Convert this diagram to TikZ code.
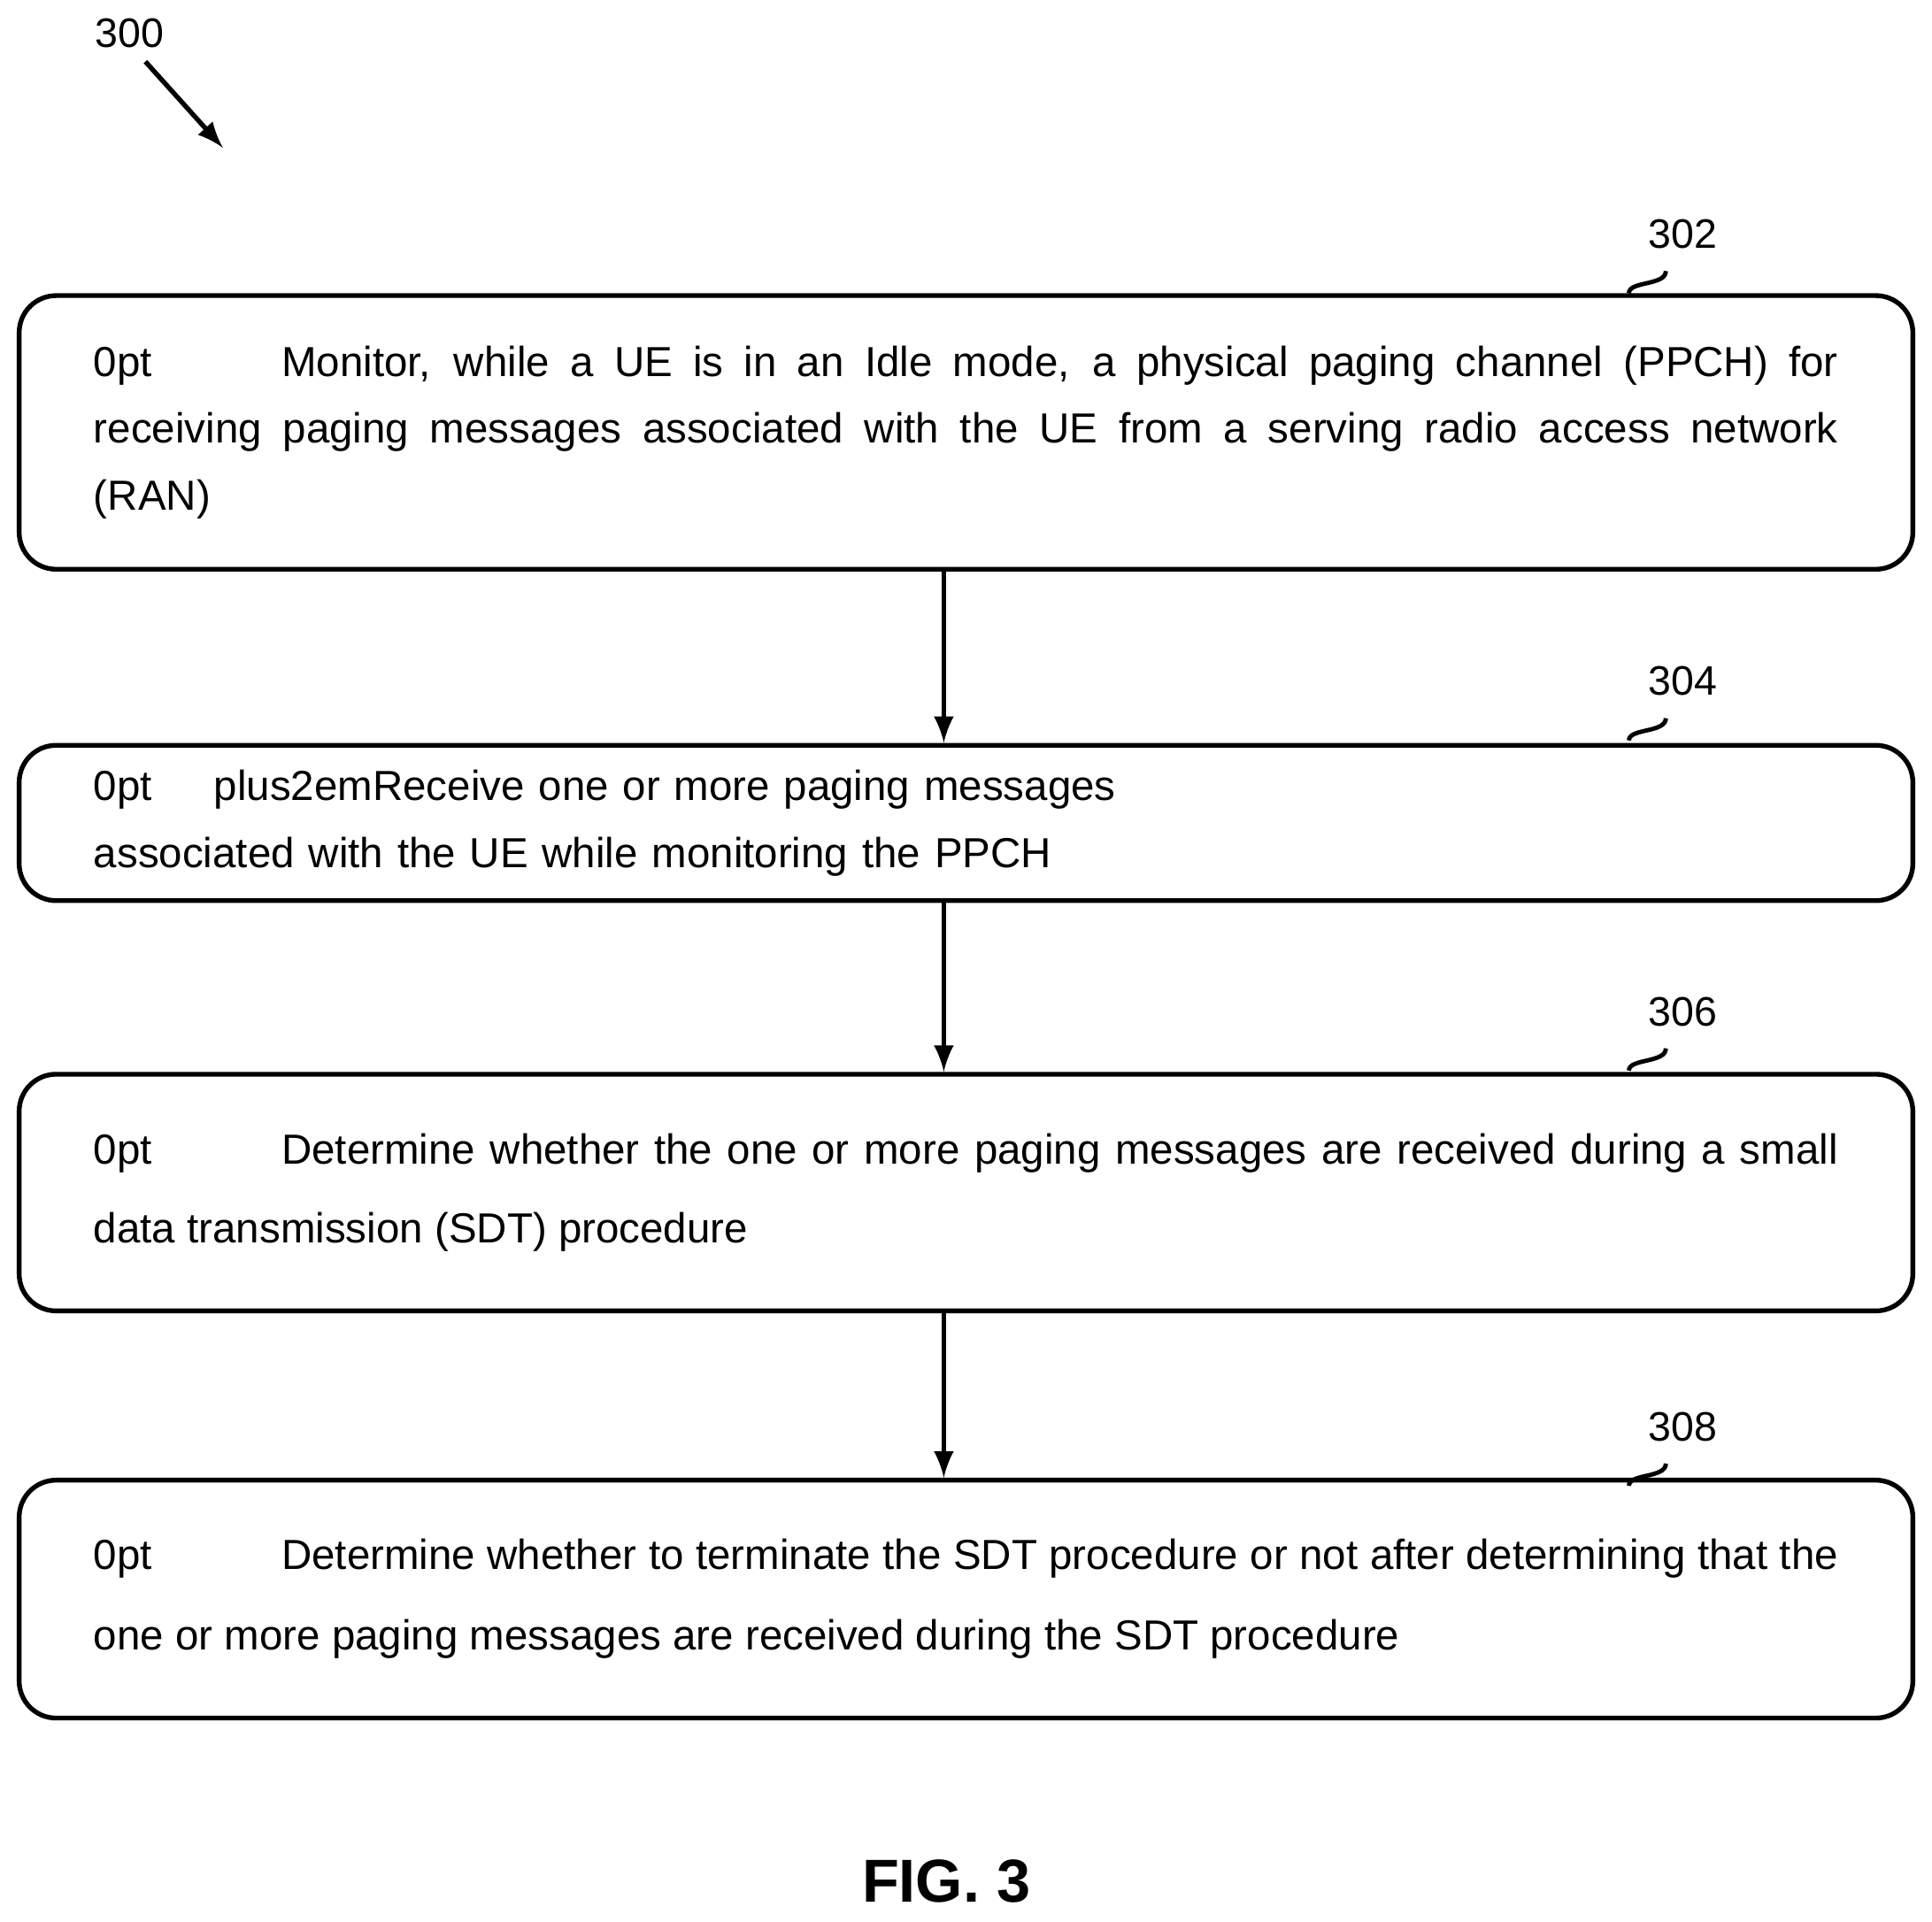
\documentclass[tikz,border=0pt]{standalone}
\usepackage{fontspec}
\setmainfont{Liberation Sans}
\usetikzlibrary{positioning}
\tikzset{
  stepbox/.style={draw, line width=1.1pt, rounded corners=0.3cm, minimum width=15.36cm, inner sep=0pt},
  steptext/.style={text width=14.15cm, align=justify, font=\fontsize{9.7}{15.5}\selectfont\hyphenpenalty=10000},
  flow/.style={-latex, line width=1.1pt},
  ref/.style={font=\fontsize{9.5}{11}\selectfont},
}
\begin{document}
\begin{tikzpicture}[x=0.01cm,y=-0.01cm]
\useasboundingbox (0,0) rectangle (1568,1560);
\node[stepbox, minimum height=2.22cm] (s302) at (784,351) {};
\node[steptext] at (s302.center) {\hspace*{1.05cm}Monitor, while a UE is in an Idle mode, a physical paging channel (PPCH) for\linebreak receiving paging messages associated with the UE from a serving radio access network\linebreak (RAN)};
\node[stepbox, minimum height=1.26cm] (s304) at (784,668) {};
\node[steptext, align=center] at (s304.center) {Receive one or more paging messages associated with the UE while monitoring the PPCH};
\node[stepbox, minimum height=1.92cm] (s306) at (784,968) {};
\node[steptext, font=\fontsize{9.7}{18.2}\selectfont\hyphenpenalty=10000] at (s306.center) {\hspace*{1.05cm}Determine whether the one or more paging messages are received during a small\linebreak data transmission (SDT) procedure};
\node[stepbox, minimum height=1.93cm] (s308) at (784,1298) {};
\node[steptext, font=\fontsize{9.7}{18.6}\selectfont\hyphenpenalty=10000] at (s308.center) {\hspace*{1.05cm}Determine whether to terminate the SDT procedure or not after determining that the\linebreak one or more paging messages are received during the SDT procedure};
% flow arrows
\draw[flow] (s302.south -| 766,0) -- (s304.north -| 766,0);
\draw[flow] (s304.south -| 766,0) -- (s306.north -| 766,0);
\draw[flow] (s306.south -| 766,0) -- (s308.north -| 766,0);
% reference numerals
\foreach \n/\y in {302/190, 304/553, 306/821, 308/1158}{
  \node[ref] (l\n) at (1366,\y) {\n};
  \draw[line width=1pt] (1322,\y+48) .. controls (1322,\y+38) and (1352,\y+42) .. (1352,\y+30);
}
\node[ref] (l300) at (105,27) {300};
\coordinate (a300) at (181,120);
\draw[flow] (118,50) -- (a300);
\node[font=\bfseries\fontsize{14}{16}\selectfont] (fig) at (768,1527) {FIG. 3};
\end{tikzpicture}
\end{document}
